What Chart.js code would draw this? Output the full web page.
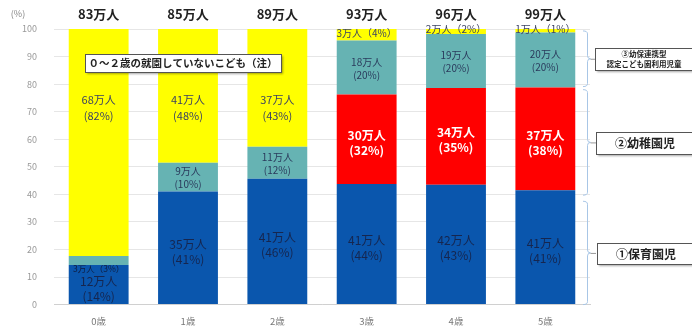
<!DOCTYPE html>
<html><head><meta charset="utf-8">
<script src="https://cdn.jsdelivr.net/npm/chart.js@4"></script>
<style>html,body{margin:0;padding:0;background:#fff;}#wrap{width:692px;height:327px;position:relative;}</style>
</head><body><div id="wrap"><canvas id="c" width="692" height="327"></canvas></div>
<script>
const categories = ["0歳","1歳","2歳","3歳","4歳","5歳"];
const totals = ["83万人","85万人","89万人","93万人","96万人","99万人"];
// percentage heights
const hoiku = [14.4, 41.0, 45.7, 43.8, 43.5, 41.5];
const youchien = [0, 0, 0, 32.4, 35.1, 37.3];
const kodomoen = [3.2, 10.5, 11.6, 19.6, 19.6, 19.9];
const mishuen = [82.4, 48.5, 42.7, 4.2, 1.8, 1.3];
// label texts
const hoikuCount = ["12万人","35万人","41万人","41万人","42万人","41万人"];
const hoikuPct = ["14%","41%","46%","44%","43%","41%"];
const youchienCount = [null,null,null,"30万人","34万人","37万人"];
const youchienPct = [null,null,null,"32%","35%","38%"];
const kodomoenCount = ["3万人","9万人","11万人","18万人","19万人","20万人"];
const kodomoenPct = ["3%","10%","12%","20%","20%","20%"];
const mishuenCount = ["68万人","41万人","37万人","3万人","2万人","1万人"];
const mishuenPct = ["82%","48%","43%","4%","2%","1%"];
const yTicks = [0,10,20,30,40,50,60,70,80,90,100];

const JP = '"Noto Sans CJK JP", "Noto Sans", sans-serif';
const labelSets = [
  {count: hoikuCount, pct: hoikuPct, color:'#16264f', font:'12px', weight:'normal', off:4},
  {count: youchienCount, pct: youchienPct, color:'#ffffff', font:'12px', weight:'bold', off:4},
  {count: kodomoenCount, pct: kodomoenPct, color:'#2a3a5c', font:'10px', weight:'normal', off:1},
  {count: mishuenCount, pct: mishuenPct, color:'#3b4262', font:'11px', weight:'normal', off:0}
];

const annot = {
  id:'annot',
  afterDatasetsDraw(chart){
    const ctx = chart.ctx, xs = chart.scales.x, ys = chart.scales.y;
    ctx.save();
    ctx.textAlign='center'; ctx.textBaseline='middle';
    chart.data.datasets.forEach((ds, di) => {
      const meta = chart.getDatasetMeta(di);
      const L = labelSets[di];
      meta.data.forEach((bar, i) => {
        const c = L.count[i]; if(!c) return;
        const top = bar.y, base = bar.base, h = base-top;
        ctx.fillStyle = L.color;
        if (di===3 && i<3) {
          ctx.font = `${L.weight} ${L.font} ${JP}`;
          const cy = ys.getPixelForValue(71.5);
          ctx.fillText(c, bar.x, cy-8);
          ctx.fillText('('+L.pct[i]+')', bar.x, cy+8);
        } else if (h < 20) {
          ctx.font = `normal ${di===2?'8.5px':'10px'} ${JP}`;
          let cy = (top+base)/2 - 2;
          if (di===2) { cy = base + 4; ctx.fillStyle = '#0f1d40'; }
          ctx.fillText(c+'（'+L.pct[i]+'）', bar.x, cy);
        } else {
          ctx.font = `${L.weight} ${L.font} ${JP}`;
          const cy = (top+base)/2 + L.off;
          const lh = di===2 ? 6.5 : 7.5;
          ctx.fillText(c, bar.x, cy-lh);
          ctx.fillText('('+L.pct[i]+')', bar.x, cy+lh);
        }
      });
    });
    // totals
    ctx.fillStyle='#222'; ctx.font=`bold 13px ${JP}`;
    totals.forEach((t,i)=>ctx.fillText(t, xs.getPixelForValue(i), 14));
    // (%)
    ctx.fillStyle='#888'; ctx.font=`9px ${JP}`;
    ctx.fillText('(%)', 18, 14);
    // note box
    function box(x,y,w,h){
      ctx.save();
      ctx.shadowColor='rgba(0,0,0,0.35)'; ctx.shadowOffsetX=1.5; ctx.shadowOffsetY=1.5; ctx.shadowBlur=2;
      ctx.fillStyle='#fff'; ctx.fillRect(x,y,w,h);
      ctx.restore();
      ctx.strokeStyle='#555'; ctx.lineWidth=1; ctx.strokeRect(x+0.5,y+0.5,w,h);
    }
    box(85,54,196,18);
    ctx.fillStyle='#222'; ctx.font=`bold 10.5px ${JP}`;
    ctx.fillText('０～２歳の就園していないこども（注）', 183, 63.5);
    // brackets
    function brace(v1, v2){
      const y1 = ys.getPixelForValue(v1), y2 = ys.getPixelForValue(v2), ym=(y1+y2)/2;
      const xa=583, xb=587.5, r=3;
      ctx.strokeStyle='#a8c6e6'; ctx.lineWidth=1;
      ctx.beginPath();
      ctx.moveTo(xa,y1); ctx.quadraticCurveTo(xb,y1,xb,y1+r);
      ctx.lineTo(xb,ym-r); ctx.quadraticCurveTo(xb,ym,xb+3,ym);
      ctx.moveTo(xb+3,ym); ctx.quadraticCurveTo(xb,ym,xb,ym+r);
      ctx.lineTo(xb,y2-r); ctx.quadraticCurveTo(xb,y2,xa,y2);
      ctx.stroke();
      ctx.strokeStyle='#999';
      ctx.beginPath(); ctx.moveTo(xb+3,ym+0.5); ctx.lineTo(596,ym+0.5); ctx.stroke();
    }
    brace(99.3, 79.1);
    brace(78, 39.7);
    brace(37.5, 0);
    box(595,48,100,22);
    box(596,132,100,22);
    box(597,243,100,21);
    ctx.fillStyle='#222';
    ctx.font=`bold 7.5px ${JP}`;
    ctx.fillText('③幼保連携型', 644, 54);
    ctx.fillText('認定こども園利用児童', 644, 64);
    ctx.font=`bold 12px ${JP}`;
    ctx.fillText('②幼稚園児', 645, 143);
    ctx.fillText('①保育園児', 646, 254);
    ctx.restore();
  }
};

new Chart(document.getElementById('c'), {
  type:'bar',
  data:{
    labels: categories,
    datasets:[
      {label:'①保育園児', data:hoiku, backgroundColor:'#0a56ad'},
      {label:'②幼稚園児', data:youchien, backgroundColor:'#ff0000'},
      {label:'③幼保連携型認定こども園利用児童', data:kodomoen, backgroundColor:'#66b3b3'},
      {label:'0～2歳の就園していないこども', data:mishuen, backgroundColor:'#ffff00'}
    ]
  },
  options:{
    responsive:false, animation:false,
    layout:{padding:{top:29, right:102, left:0, bottom:0}},
    plugins:{legend:{display:false}, tooltip:{enabled:false}},
    datasets:{bar:{categoryPercentage:1, barPercentage:0.67, borderWidth:0}},
    scales:{
      x:{stacked:true,
        grid:{display:false, drawTicks:false},
        border:{color:'#d0d0d0'},
        ticks:{color:'#777', font:{size:9.5, family:JP}, padding:11},
        afterFit(s){ s.height = 21; }
      },
      y:{stacked:true, min:0, max:100,
        afterBuildTicks(s){ s.ticks = yTicks.map(v=>({value:v})); },
        grid:{color:'#e6e6e6', drawTicks:false},
        border:{display:false},
        ticks:{color:'#999', font:{size:9, family:JP}, padding:17},
        afterFit(s){ s.width = 54; }
      }
    }
  },
  plugins:[annot]
});
</script></body></html>
